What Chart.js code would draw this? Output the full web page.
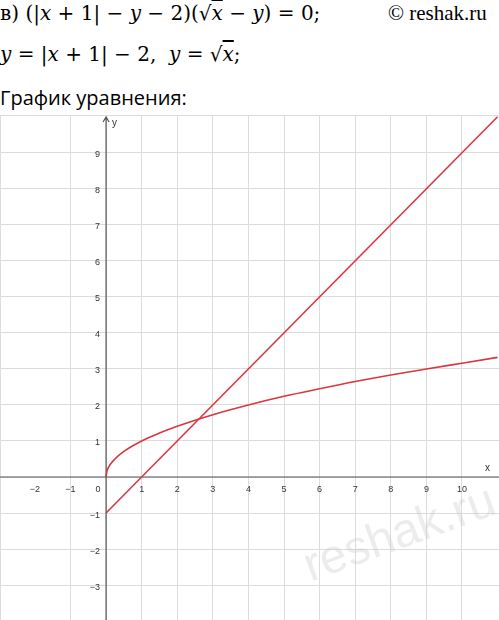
<!DOCTYPE html>
<html><head><meta charset="utf-8">
<script src="https://cdn.jsdelivr.net/npm/chart.js@4"></script>
<style>
body{margin:0;width:499px;height:620px;background:#fff;position:relative;overflow:hidden}
.t{position:absolute;white-space:nowrap;color:#000}
.m{font-family:"DejaVu Serif","Liberation Serif",serif;font-size:20px}
.m i{font-style:italic}
#wrap{position:absolute;left:0;top:115px;width:499px;height:505px}
</style></head><body>
<div class="t m" style="left:0;top:1px">в) (|<i>x</i> + 1| − <i>y</i> − 2)(√<span style="text-decoration:overline"><i>x</i></span> − <i>y</i>) = 0;</div>
<div class="t" style="left:388px;top:1px;font-family:'Liberation Serif',serif;font-size:21px">© reshak.ru</div>
<div class="t m" style="left:0;top:42px"><i>y</i> = |<i>x</i> + 1| − 2,&nbsp; <i>y</i> = √<span style="text-decoration:overline"><i>x</i></span>;</div>
<div class="t" style="left:0;top:84px;font-family:'Open Sans',sans-serif;font-size:20px">График уравнения:</div>
<div id="wrap"><canvas id="c"></canvas></div>
<script>
// line y = |x+1| - 2 for x >= 0
var lineX = [0, 11];
var lineY = [-1, 10];
// curve y = sqrt(x)
var rootX = [0, 0.02, 0.1, 0.25, 0.5, 1, 1.5, 2, 3, 4, 5, 6, 7, 8, 9, 10, 11];
var rootY = [0, 0.14, 0.32, 0.5, 0.71, 1, 1.22, 1.41, 1.73, 2, 2.24, 2.45, 2.65, 2.83, 3, 3.16, 3.32];
var xTicks = [-2, -1, 1, 2, 3, 4, 5, 6, 7, 8, 9, 10];
var yTicks = [-3, -2, -1, 1, 2, 3, 4, 5, 6, 7, 8, 9];

function pts(xs, ys) { return xs.map(function(x, i) { return {x: x, y: ys[i]}; }); }

var axesPlugin = {
  id: 'axes',
  beforeDatasetsDraw: function(chart) {
    var ctx = chart.ctx, sx = chart.scales.x, sy = chart.scales.y;
    var x0 = sx.getPixelForValue(0), y0 = sy.getPixelForValue(0);
    ctx.save();
    ctx.strokeStyle = '#555'; ctx.lineWidth = 1.2;
    ctx.beginPath();
    ctx.moveTo(0, y0); ctx.lineTo(chart.width, y0);
    ctx.moveTo(x0, chart.height); ctx.lineTo(x0, 2);
    ctx.moveTo(x0 - 3, 7); ctx.lineTo(x0, 2); ctx.lineTo(x0 + 3, 7);
    ctx.stroke();
    ctx.fillStyle = '#333'; ctx.font = '9px "Liberation Sans", sans-serif';
    ctx.textAlign = 'center'; ctx.textBaseline = 'top';
    xTicks.forEach(function(v) {
      ctx.fillText(v < 0 ? '\u2212' + (-v) : v, sx.getPixelForValue(v), y0 + 8);
    });
    ctx.fillText('0', x0 - 8, y0 + 8);
    ctx.textAlign = 'right'; ctx.textBaseline = 'middle';
    yTicks.forEach(function(v) {
      ctx.fillText(v < 0 ? '\u2212' + (-v) : v, x0 - 6, sy.getPixelForValue(v) + 2);
    });
    ctx.font = '10px "Liberation Sans", sans-serif';
    ctx.textAlign = 'left';
    ctx.fillText('y', x0 + 6, 8);
    ctx.fillText('x', chart.width - 14, y0 - 9);
    // watermark
    ctx.translate(400, 420); ctx.rotate(-0.35);
    ctx.font = '48px "Liberation Sans", sans-serif';
    ctx.fillStyle = 'rgba(200,200,200,0.35)'; ctx.textAlign = 'center';
    ctx.fillText('reshak.ru', 0, 0);
    ctx.restore();
  }
};

new Chart(document.getElementById('c'), {
  type: 'scatter',
  data: {
    datasets: [
      {data: pts(lineX, lineY), showLine: true, borderColor: '#d9373f', borderWidth: 1.6, pointRadius: 0, tension: 0},
      {data: pts(rootX, rootY), showLine: true, borderColor: '#d9373f', borderWidth: 1.6, pointRadius: 0, cubicInterpolationMode: 'monotone'}
    ]
  },
  options: {
    responsive: true, maintainAspectRatio: false, animation: false,
    layout: {padding: 0},
    plugins: {legend: {display: false}, tooltip: {enabled: false}},
    scales: {
      x: {type: 'linear', min: -2.98, max: 11.04, ticks: {display: false, stepSize: 1}, border: {display: false},
          grid: {color: '#dcdcdc', drawTicks: false}},
      y: {type: 'linear', min: -3.97, max: 10.05, ticks: {display: false, stepSize: 1}, border: {display: false},
          grid: {color: '#dcdcdc', drawTicks: false}}
    }
  },
  plugins: [axesPlugin]
});
</script>
</body></html>
